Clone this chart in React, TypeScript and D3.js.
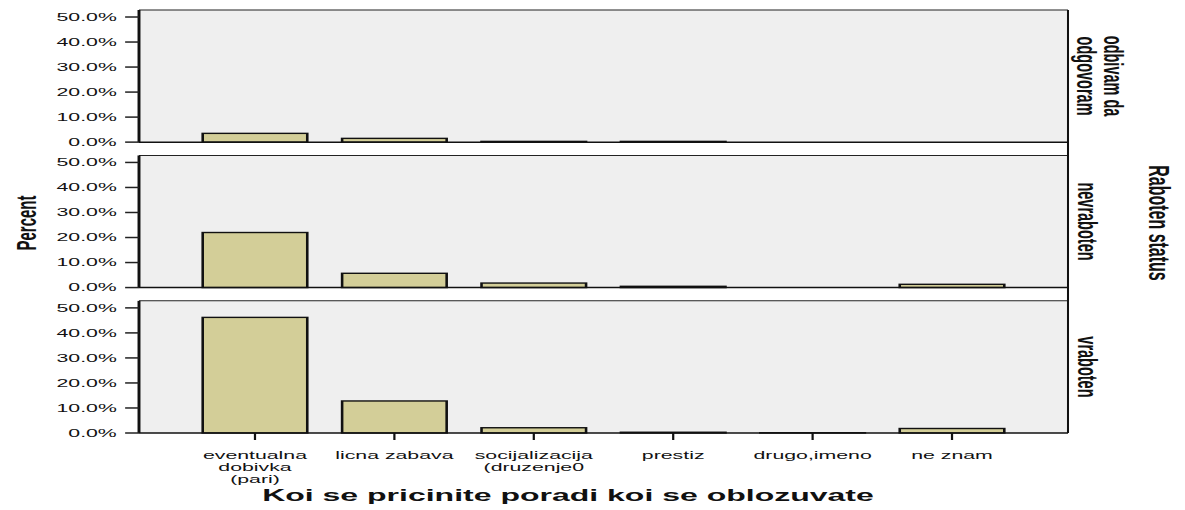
import * as d3 from 'd3';

// horizontal stretch of the original rendering
const SX = 1.85;

const categories = [
  'eventualna\ndobivka\n(pari)',
  'licna zabava',
  'socijalizacija\n(druzenje0',
  'prestiz',
  'drugo,imeno',
  'ne znam',
];
const statuses = ['odbivam da\nodgovoram', 'nevraboten', 'vraboten'];
const odbivamValues = [3.5, 1.5, 0.3, 0.3, 0, 0];
const nevrabotenValues = [22.0, 5.7, 1.8, 0.5, 0, 1.3];
const vrabotenValues = [46.2, 12.8, 2.1, 0.3, 0.1, 1.8];
const seriesValues = [odbivamValues, nevrabotenValues, vrabotenValues];
const yTicks = [0, 10, 20, 30, 40, 50];

const xTitle = 'Koi se pricinite poradi koi se oblozuvate';
const yTitle = 'Percent';
const rowTitle = 'Raboten status';

const FONT = '"Liberation Sans", Arial, Helvetica, sans-serif';
const BAR_FILL = '#d3ce98';
const PANEL_BG = '#efefef';

export default function App() {
  const width = 1185;
  const height = 510;
  const left = 139 / SX;
  const right = 1068 / SX;
  const top = 10;
  const bottom = 433;

  const x = d3.scaleBand<number>()
    .domain(d3.range(categories.length))
    .range([left, right])
    .paddingInner(0.25)
    .paddingOuter(0.457);

  const row = d3.scaleBand<number>()
    .domain(d3.range(statuses.length))
    .range([top, bottom])
    .paddingInner(0.0915);

  const fmt = (v: number) => d3.format('.1f')(v) + '%';

  return (
    <svg width={width} height={height} style={{ position: 'absolute', left: 0, top: 0, background: '#fff' }}>
      <g transform={`scale(${SX},1)`} fontFamily={FONT}>
        {statuses.map((s, r) => {
          const y0 = row(r)!;
          const h = row.bandwidth();
          const y = d3.scaleLinear().domain([0, 52.8]).range([y0 + h, y0]);
          const lines = s.split('\n');
          const lx = lines.length > 1 ? 594.5 : 588;
          const lh = 14.6;
          return (
            <g key={s}>
              <rect x={left} y={y0} width={right - left} height={h} fill={PANEL_BG} />
              <line x1={left} x2={right} y1={y0} y2={y0} stroke="#222" strokeWidth={1} />
              {seriesValues[r].map((v, i) =>
                v > 0 ? (
                  <rect
                    key={i}
                    x={x(i)}
                    y={y(v)}
                    width={x.bandwidth()}
                    height={y(0) - y(v)}
                    fill={BAR_FILL}
                    stroke="#111"
                    strokeWidth={1.4}
                  />
                ) : null,
              )}
              <line x1={left} x2={right} y1={y(0)} y2={y(0)} stroke="#111" strokeWidth={1.5} />
              <line x1={left} x2={left} y1={y0} y2={y0 + h} stroke="#111" strokeWidth={1.6} />
              {yTicks.map(t => (
                <g key={t}>
                  <line x1={left - 7.5} x2={left} y1={y(t)} y2={y(t)} stroke="#222" strokeWidth={1.5} />
                  <text x={left - 12} y={y(t)} textAnchor="end" dominantBaseline="central" fontSize={11.5} fill="#111">
                    {fmt(t)}
                  </text>
                </g>
              ))}
              {lines.map((ln, j) => (
                <text
                  key={j}
                  transform={`translate(${lx + ((lines.length - 1) / 2 - j) * lh},${y0 + h / 2}) rotate(90)`}
                  textAnchor="middle"
                  dominantBaseline="central"
                  fontSize={14.5}
                  fontWeight="bold"
                  fill="#111"
                >
                  {ln}
                </text>
              ))}
            </g>
          );
        })}
        <line x1={right} x2={right} y1={top} y2={bottom} stroke="#111" strokeWidth={1.1} />
        {categories.map((c, i) => {
          const cx = x(i)! + x.bandwidth() / 2;
          return (
            <g key={c}>
              <line x1={cx} x2={cx} y1={bottom} y2={bottom + 7} stroke="#111" strokeWidth={1.2} />
              {c.split('\n').map((ln, j) => (
                <text key={j} x={cx} y={455 + j * 12} textAnchor="middle" dominantBaseline="central" fontSize={11.5} fill="#111">
                  {ln}
                </text>
              ))}
            </g>
          );
        })}
        <text x={307} y={495} textAnchor="middle" dominantBaseline="central" fontSize={17.3} fontWeight="bold" fill="#111">
          {xTitle}
        </text>
        <text transform={`translate(${27 / SX},223) rotate(-90)`} textAnchor="middle" dominantBaseline="central" fontSize={15} fontWeight="bold" fill="#111">
          {yTitle}
        </text>
        <text transform={`translate(${1160 / SX},223) rotate(90)`} textAnchor="middle" dominantBaseline="central" fontSize={16} fontWeight="bold" fill="#111">
          {rowTitle}
        </text>
      </g>
    </svg>
  );
}
